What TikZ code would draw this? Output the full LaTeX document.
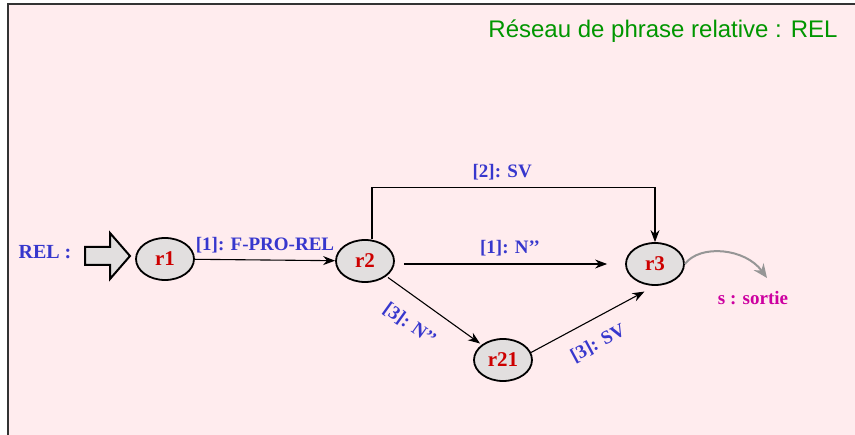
\documentclass[tikz,border=0pt]{standalone}
\usepackage{fontspec}
\setmainfont{Liberation Serif}
\newfontfamily\titlefont{Liberation Sans}
\usepackage{tikz}
\usetikzlibrary{shapes.geometric, arrows.meta, positioning, calc}

\definecolor{bgpink}{RGB}{255,236,238}
\definecolor{lblblue}{RGB}{55,55,205}
\definecolor{statered}{RGB}{205,0,0}
\definecolor{titlegreen}{RGB}{0,150,0}
\definecolor{outmagenta}{RGB}{205,0,160}
\definecolor{stategray}{RGB}{226,223,223}
\definecolor{exitgray}{RGB}{150,150,150}

\begin{document}
\begin{tikzpicture}[
    x=1pt, y=-1pt,
    state/.style={ellipse, draw, line width=1.8pt, fill=stategray, minimum width=58pt, minimum height=42pt, inner sep=0pt, font=\bfseries\fontsize{21}{23}\selectfont, text=statered},
    lbl/.style={font=\bfseries\fontsize{19}{21}\selectfont, text=lblblue},
    arrow/.style={-{Stealth[length=12pt, width=9pt]}, line width=1.1pt},
    exitarrow/.style={-{Stealth[length=14pt, width=12pt]}, line width=2pt, exitgray},
    bigarrow/.style={draw, line width=2pt, fill=stategray, line join=miter}
]
    % fond et cadre
    \useasboundingbox (0,0) rectangle (855,435);
    \fill[bgpink] (8,4) rectangle (855,435);
    \draw[line width=1.5pt, black!80] (8,435) -- (8,4) -- (855,4);

    \node[font=\titlefont\fontsize{24}{26}\selectfont, text=titlegreen] (titre) at (663,31) {Réseau de phrase relative : REL};

    % entree
    \node[lbl, font=\bfseries\fontsize{20}{22}\selectfont] (rel) at (45,252) {REL :};
    \draw[bigarrow] (85,247) -- (110,247) -- (110,233) -- (130,256) -- (110,279) -- (110,265) -- (85,265) -- cycle;

    % etats
    \node[state] (r1) at (165,259) {r1};
    \node[state] (r2) at (365,261) {r2};
    \node[state] (r3) at (655,264) {r3};
    \node[state] (r21) at (503,360) {r21};
    \coordinate (sortie) at (767,278);

    % transitions
    \draw[arrow] (r1) -- node[lbl, above=3pt] {[1]: F-PRO-REL} (r2);
    \draw[arrow, shorten <=9pt, shorten >=18pt] (r2.east |- r3) -- node[lbl, above=4pt] {[1]: N’’} (r3.west);
    \draw[arrow] ([xshift=7pt]r2.north) -- ++(0,-52) -| node[lbl, pos=0.23, above=3pt] {[2]: SV} (r3.north);
    \draw[arrow, shorten <=2pt, shorten >=2pt] (r2) -- node[lbl, sloped, below=14pt, pos=0.4] {[3]: N’’} (r21);
    \draw[arrow, shorten >=12pt] (r21.15) -- node[lbl, sloped, below=12pt, pos=0.45] {[3]: SV} (r3.south);
    \draw[exitarrow] (r3.east) .. controls (700,244) and (745,248) .. (sortie);
    \node[font=\bfseries\fontsize{19}{21}\selectfont, text=outmagenta] (s) at (753,298) {s : sortie};
\end{tikzpicture}
\end{document}
